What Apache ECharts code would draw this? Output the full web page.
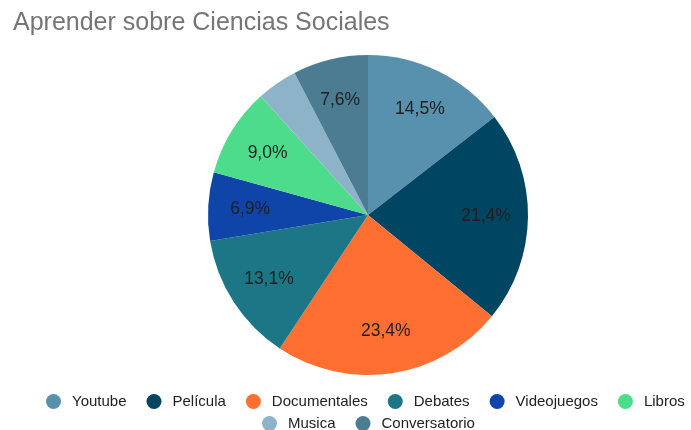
<!DOCTYPE html>
<html>
<head>
<meta charset="utf-8">
<script src="https://cdn.jsdelivr.net/npm/echarts@6/dist/echarts.min.js"></script>
<style>
  html, body { margin: 0; padding: 0; background: #fff; }
  #chart { width: 691px; height: 430px; }
</style>
</head>
<body>
<div id="chart"></div>
<script>
const categories = ['Youtube', 'Película', 'Documentales', 'Debates', 'Videojuegos', 'Libros', 'Musica', 'Conversatorio']
const values = [14.5, 21.4, 23.4, 13.1, 6.9, 9.0, 4.1, 7.6]
const colors = ['#5891ad', '#004561', '#ff6f31', '#1c7685', '#0f45a8', '#4cdc8b', '#8cb3c8', '#4b7c91']
const hiddenLabels = ['Musica']

const font = 'Arial, "Liberation Sans", sans-serif'

const chart = echarts.init(document.getElementById('chart'))

const pieData = categories.map((name, i) => ({
  name: name,
  value: values[i],
  itemStyle: { color: colors[i] }
}))

// second, transparent ring only carries the labels further out than 'inside' would put them
const labelData = categories.map((name, i) => ({
  name: name,
  value: values[i],
  label: { show: !hiddenLabels.includes(name) }
}))

const legendCommon = {
  icon: 'circle',
  itemWidth: 15,
  itemHeight: 15,
  itemGap: 20,
  padding: 0,
  selectedMode: false,
  textStyle: {
    fontFamily: font,
    fontSize: 15,
    color: '#222',
    padding: [0, 0, 0, 6]
  }
}

const option = {
  animation: false,
  title: {
    text: 'Aprender sobre Ciencias Sociales',
    left: 8,
    top: 6,
    textStyle: {
      fontFamily: font,
      fontSize: 25,
      fontWeight: 'normal',
      color: '#757575'
    }
  },
  // two legends so the second row sits centred under the pie like the original
  legend: [
    Object.assign({}, legendCommon, { left: 46, top: 394, data: categories.slice(0, 6) }),
    Object.assign({}, legendCommon, { left: 262, top: 416, data: categories.slice(6) })
  ],
  series: [
    {
      name: 'Aprender',
      type: 'pie',
      center: [368, 215],
      radius: [0, 160],
      startAngle: 90,
      clockwise: true,
      label: { show: false },
      labelLine: { show: false },
      itemStyle: { borderWidth: 0 },
      data: pieData
    },
    {
      name: 'Etiquetas',
      type: 'pie',
      center: [368, 215],
      radius: [70, 160],
      startAngle: 90,
      clockwise: true,
      silent: true,
      legendHoverLink: false,
      itemStyle: { color: 'rgba(0,0,0,0)' },
      labelLine: { show: false },
      label: {
        show: true,
        position: 'inside',
        fontFamily: font,
        fontSize: 17.5,
        color: '#1f1f1f',
        formatter: (p) => p.percent.toFixed(1).replace('.', ',') + '%'
      },
      data: labelData
    }
  ]
}

chart.setOption(option)
</script>
</body>
</html>
